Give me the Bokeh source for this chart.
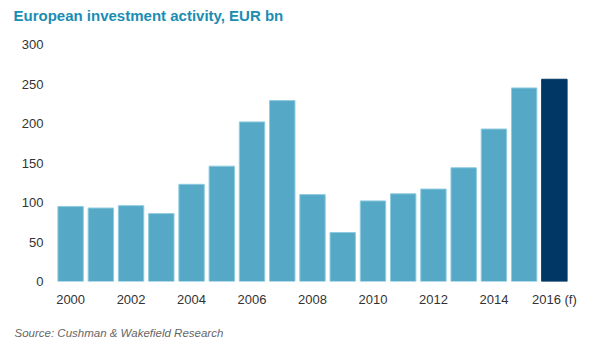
from bokeh.plotting import figure
from bokeh.models import ColumnDataSource, Title, Range1d, FixedTicker
from bokeh.embed import file_html
from bokeh.resources import INLINE

years = list(range(2000, 2017))
values = [95, 93, 96, 86, 123, 146, 202, 229, 110, 62, 102, 111, 117, 144, 193, 245, 256]
colors = ["#55a9c6"] * 16 + ["#003764"]
edges = ["#8fcbe0"] * 16 + ["#003764"]
tick_years = [2000, 2002, 2004, 2006, 2008, 2010, 2012, 2014, 2016]
tick_labels = ["2000", "2002", "2004", "2006", "2008", "2010", "2012", "2014", "2016 (f)"]
y_ticks = [0, 50, 100, 150, 200, 250, 300]

src = ColumnDataSource(dict(x=years, top=values, color=colors, edge=edges))

p = figure(width=584, height=354, output_backend="svg", toolbar_location=None,
           x_range=Range1d(1999.5, 2016.5), y_range=Range1d(0, 300),
           min_border_left=55, min_border_right=15, min_border_top=44, min_border_bottom=73)

p.title.text = "European investment activity, EUR bn\n "
p.title.text_font = "Liberation Sans"
p.title.text_font_size = "15px"
p.title.text_font_style = "bold"
p.title.text_color = "#1a8db3"
p.title.align = "left"
p.title.offset = -42
p.title.standoff = 8

p.vbar(x="x", top="top", width=0.84, source=src, fill_color="color", line_color="edge", line_width=1)

src_title = Title(text="Source: Cushman & Wakefield Research", text_font="Liberation Sans",
                  text_font_size="11.5px", text_font_style="italic", text_color="#666666",
                  align="left", offset=-41, standoff=30)
p.add_layout(src_title, "below")

p.xgrid.visible = False
p.ygrid.visible = False
p.outline_line_color = None
for ax in (p.xaxis, p.yaxis):
    ax.axis_line_color = None
    ax.major_tick_line_color = None
    ax.minor_tick_line_color = None
    ax.major_label_text_font = "Liberation Sans"
    ax.major_label_text_font_size = "13px"
    ax.major_label_text_color = "#333333"
p.xaxis.ticker = FixedTicker(ticks=tick_years)
p.xaxis.major_label_overrides = {y: l for y, l in zip(tick_years, tick_labels)}
p.yaxis.ticker = FixedTicker(ticks=y_ticks)
p.xaxis.major_label_standoff = 4
p.yaxis.major_label_standoff = 6

open("out.html", "w").write(file_html(p, INLINE))
